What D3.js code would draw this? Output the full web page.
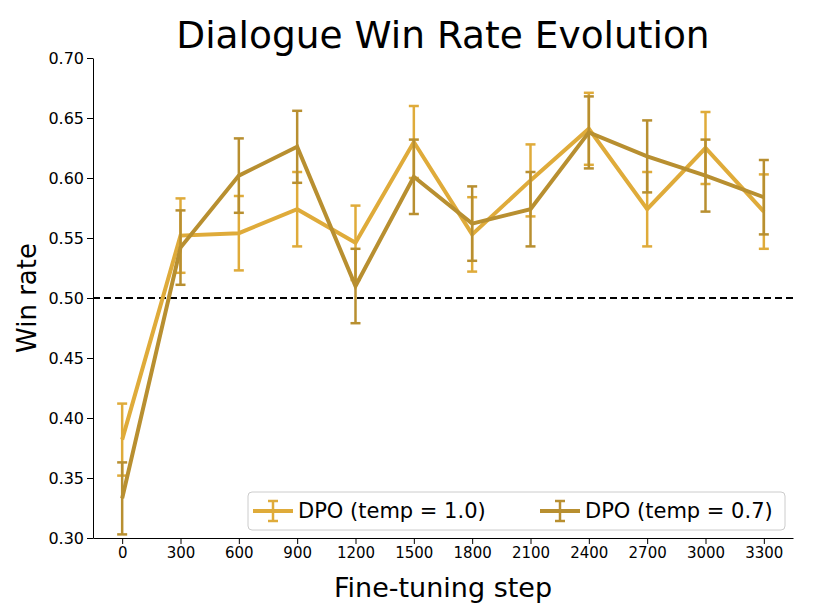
<!DOCTYPE html>
<html><head><meta charset="utf-8">
<script src="https://cdn.jsdelivr.net/npm/d3@7"></script>
<style>body{margin:0;background:#fff}</style>
</head><body><div id="chart"></div>
<script>
const steps = [0, 300, 600, 900, 1200, 1500, 1800, 2100, 2400, 2700, 3000, 3300];
const winT10 = [0.382, 0.552, 0.554, 0.574, 0.546, 0.630, 0.553, 0.598, 0.641, 0.574, 0.625, 0.572];
const errT10 = [0.030, 0.031, 0.031, 0.031, 0.031, 0.030, 0.031, 0.030, 0.030, 0.031, 0.030, 0.031];
const winT07 = [0.333, 0.542, 0.602, 0.626, 0.510, 0.601, 0.562, 0.574, 0.638, 0.618, 0.602, 0.584];
const errT07 = [0.030, 0.031, 0.031, 0.030, 0.031, 0.031, 0.031, 0.031, 0.030, 0.030, 0.030, 0.031];
const yTicks = [0.30, 0.35, 0.40, 0.45, 0.50, 0.55, 0.60, 0.65, 0.70];

const series = [
  {name: 'DPO (temp = 1.0)', values: winT10, err: errT10, color: '#dfab3a'},
  {name: 'DPO (temp = 0.7)', values: winT07, err: errT07, color: '#b88f30'},
];

const svg = d3.select('#chart').append('svg').attr('width', 816).attr('height', 616);
const m = {left: 93, right: 793, top: 58, bottom: 538};

const x = d3.scaleLinear().domain([-150, 3450]).range([m.left, m.right]);
const y = d3.scaleLinear().domain([0.30, 0.70]).range([m.bottom, m.top]);

svg.append('g')
  .attr('transform', `translate(0,${m.bottom})`)
  .call(d3.axisBottom(x).tickValues(steps).tickFormat(d3.format('d')).tickSizeOuter(0))
  .call(g => g.selectAll('text').style('font', "15px 'DejaVu Sans'").attr('fill', '#000'));
svg.append('g')
  .attr('transform', `translate(${m.left},0)`)
  .call(d3.axisLeft(y).tickValues(yTicks).tickFormat(d3.format('.2f')).tickSizeOuter(0))
  .call(g => g.selectAll('text').style('font', "16px 'DejaVu Sans'").attr('fill', '#000'));

svg.append('line')
  .attr('x1', m.left).attr('x2', m.right)
  .attr('y1', y(0.5)).attr('y2', y(0.5))
  .attr('stroke', '#000').attr('stroke-width', 2).attr('stroke-dasharray', '7,4');

const line = d3.line().x((d, i) => x(steps[i])).y(d => y(d));

series.forEach(s => {
  const g = svg.append('g');
  g.append('path').datum(s.values).attr('d', line)
    .attr('fill', 'none').attr('stroke', s.color).attr('stroke-width', 4);
  s.values.forEach((v, i) => {
    const cx = x(steps[i]);
    g.append('line').attr('x1', cx).attr('x2', cx)
      .attr('y1', y(v - s.err[i])).attr('y2', y(v + s.err[i]))
      .attr('stroke', s.color).attr('stroke-width', 2.5);
    [v - s.err[i], v + s.err[i]].forEach(e => {
      g.append('line').attr('x1', cx - 5).attr('x2', cx + 5)
        .attr('y1', y(e)).attr('y2', y(e))
        .attr('stroke', s.color).attr('stroke-width', 2.5);
    });
  });
});

// legend
const lg = svg.append('g').attr('transform', 'translate(248,492)');
lg.append('rect').attr('width', 537).attr('height', 38).attr('rx', 4)
  .attr('fill', '#fff').attr('stroke', '#ccc');
series.forEach((s, i) => {
  const ox = 5 + i * 287;
  lg.append('line').attr('x1', ox).attr('x2', ox + 40).attr('y1', 19).attr('y2', 19)
    .attr('stroke', s.color).attr('stroke-width', 4);
  lg.append('line').attr('x1', ox + 20).attr('x2', ox + 20).attr('y1', 9).attr('y2', 29)
    .attr('stroke', s.color).attr('stroke-width', 2.5);
  [9, 29].forEach(yy => lg.append('line').attr('x1', ox + 15).attr('x2', ox + 25)
    .attr('y1', yy).attr('y2', yy).attr('stroke', s.color).attr('stroke-width', 2.5));
  lg.append('text').attr('x', ox + 45).attr('y', 26)
    .style('font', "21px 'DejaVu Sans'").text(s.name);
});

svg.append('text').attr('x', 443).attr('y', 48).attr('text-anchor', 'middle')
  .style('font', "37.5px 'DejaVu Sans'").text('Dialogue Win Rate Evolution');
svg.append('text').attr('x', 443).attr('y', 597).attr('text-anchor', 'middle')
  .style('font', "27px 'DejaVu Sans'").text('Fine-tuning step');
svg.append('text').attr('transform', `translate(36,${(m.top + m.bottom) / 2}) rotate(-90)`)
  .attr('text-anchor', 'middle').style('font', "26px 'DejaVu Sans'").text('Win rate');
</script></body></html>
